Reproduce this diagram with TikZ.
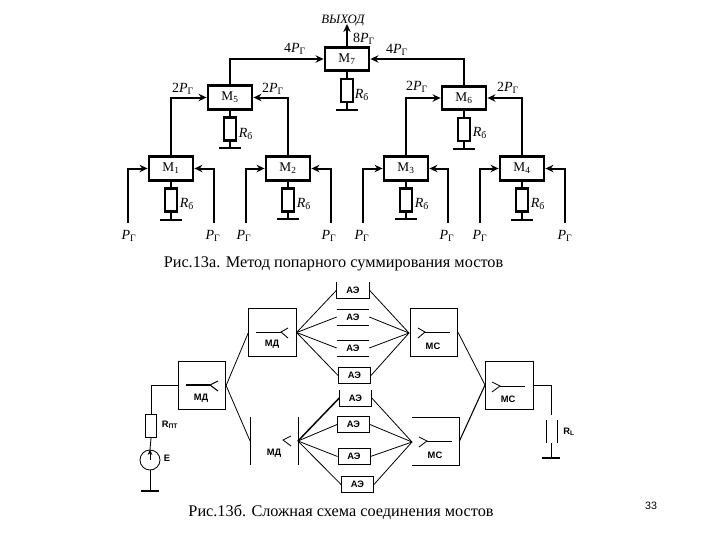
\documentclass[tikz,border=0pt]{standalone}
\usepackage{fontspec}
\setmainfont{Liberation Serif}
\setsansfont{Liberation Sans}
\usetikzlibrary{arrows.meta}
\newcommand{\Pg}{\textit{P}\textsubscript{Г}}
\newcommand{\Rb}{\textit{R}\textsubscript{б}}
\tikzset{
  mbox/.style={draw,line width=2.1pt,rectangle,inner sep=0pt,minimum width=33pt,minimum height=17.5pt,font=\fontsize{10}{12}\selectfont},
  rbox/.style={draw,line width=1.9pt,rectangle,inner sep=0pt,minimum width=9pt,minimum height=17.5pt},
  gnd/.style={fill=black,rectangle,inner sep=0pt,minimum width=16.5pt,minimum height=1.6pt},
  wire/.style={line width=1.5pt},
  arr/.style={line width=1.5pt,-{Stealth[length=6pt,width=5.5pt]}},
  lbl/.style={inner sep=0pt,font=\fontsize{10.5}{12}\selectfont},
  thinwire/.style={line width=0.65pt},
  fan/.style={line width=0.6pt},
  ae/.style={rectangle,inner sep=0pt,minimum width=24pt,minimum height=11.5pt,font=\sffamily\bfseries\fontsize{7}{8}\selectfont},
  bigbox/.style={rectangle,inner sep=0pt,minimum width=35.5pt,minimum height=35.5pt},
  tag/.style={inner sep=0pt,font=\sffamily\bfseries\fontsize{7}{8}\selectfont},
  captext/.style={inner sep=0pt,font=\fontsize{12.2}{14}\selectfont}
}
\begin{document}
\begin{tikzpicture}[x=0.75pt,y=-0.75pt]
\useasboundingbox (0,0) rectangle (720,540);
% --- top tree
\node[mbox] (m7) at (347,59) {М\textsubscript{7}};
\node[mbox] (m5) at (230,97.5) {М\textsubscript{5}};
\node[mbox] (m6) at (464,98) {М\textsubscript{6}};
\node[mbox] (m1) at (171,168.5) {М\textsubscript{1}};
\node[mbox] (m2) at (288,168.5) {М\textsubscript{2}};
\node[mbox] (m3) at (406,168.5) {М\textsubscript{3}};
\node[mbox] (m4) at (522,168.5) {М\textsubscript{4}};
% resistors
\node[rbox] (r7) at (347,90.5) {};
\node[rbox] (r5) at (230,129) {};
\node[rbox] (r6) at (464,129.5) {};
\node[rbox] (r1) at (171,200) {};
\node[rbox] (r2) at (288,200) {};
\node[rbox] (r3) at (406,200) {};
\node[rbox] (r4) at (522,200) {};
\node[gnd] (g7) at (347,110) {};
\node[gnd] (g5) at (230,148) {};
\node[gnd] (g6) at (464,149) {};
\node[gnd] (g1) at (171,220) {};
\node[gnd] (g2) at (288,219) {};
\node[gnd] (g3) at (406,219) {};
\node[gnd] (g4) at (522,220) {};
\foreach \a/\b/\c in {m7/r7/g7,m5/r5/g5,m6/r6/g6,m1/r1/g1,m2/r2/g2,m3/r3/g3,m4/r4/g4}
  \draw[wire] (\a) -- (\b) (\b) -- (\c);
% labels R
\node[lbl] (lr7) at (362,95) {\Rb};
\node[lbl] (lr5) at (246,134) {\Rb};
\node[lbl] (lr6) at (480,133) {\Rb};
\node[lbl] (lr1) at (187,204) {\Rb};
\node[lbl] (lr2) at (304,204) {\Rb};
\node[lbl] (lr3) at (422,204) {\Rb};
\node[lbl] (lr4) at (538,204) {\Rb};
% inputs
\node[lbl] (p1) at (129,236) {\Pg};
\node[lbl] (p2) at (213,236) {\Pg};
\node[lbl] (p3) at (244,236) {\Pg};
\node[lbl] (p4) at (329,236) {\Pg};
\node[lbl] (p5) at (362,236) {\Pg};
\node[lbl] (p6) at (447,236) {\Pg};
\node[lbl] (p7) at (480,236) {\Pg};
\node[lbl] (p8) at (565,236) {\Pg};
\coordinate (i1) at (128,223);
\coordinate (i2) at (214,223);
\coordinate (i3) at (246,223);
\coordinate (i4) at (331,223);
\coordinate (i5) at (363,223);
\coordinate (i6) at (448,223);
\coordinate (i7) at (480,223);
\coordinate (i8) at (565,223);
\draw[arr] (i1) |- (m1.west);
\draw[arr] (i2) |- (m1.east);
\draw[arr] (i3) |- (m2.west);
\draw[arr] (i4) |- (m2.east);
\draw[arr] (i5) |- (m3.west);
\draw[arr] (i6) |- (m3.east);
\draw[arr] (i7) |- (m4.west);
\draw[arr] (i8) |- (m4.east);
% tree
\draw[arr] (m1.north) |- (m5.west);
\draw[arr] (m2.north) |- (m5.east);
\draw[arr] (m3.north) |- (m6.west);
\draw[arr] (m4.north) |- (m6.east);
\draw[arr] (m5.north) |- (m7.west);
\draw[arr] (m6.north) |- (m7.east);
\node[inner sep=0pt,font=\itshape\fontsize{9.6}{11}\selectfont] (out) at (343,21) {ВЫХОД};
\coordinate (outp) at (347,24);
\draw[arr] (m7.north) -- (outp);
\node[lbl] (t8) at (364,39) {8\Pg};
\node[lbl] (t4a) at (295,49) {4\Pg};
\node[lbl] (t4b) at (397,50) {4\Pg};
\node[lbl] (t2a) at (183,89) {2\Pg};
\node[lbl] (t2b) at (273,89) {2\Pg};
\node[lbl] (t2c) at (417,87) {2\Pg};
\node[lbl] (t2d) at (508,88) {2\Pg};
\node[captext] (c1) at (333.5,264) {Рис.13а. Метод попарного суммирования мостов};
% --- bottom
\node[bigbox,draw,thinwire] (mdl) at (202,385.5) {};
\node[bigbox,draw,thinwire] (mdt) at (272.5,332.5) {};
\node[bigbox] (mdb) at (274,441) {};
\node[bigbox,draw,thinwire] (mct) at (434,332.5) {};
\node[bigbox] (mcb) at (435.5,441) {};
\node[bigbox,draw,thinwire] (mcr) at (509.5,385.5) {};
\draw[thinwire] (mdb.north west) -- (mdb.south west);
\draw[thinwire] (mdb.north east) -- (mdb.south east);
\draw[thinwire] (mcb.north west) -- (mcb.north east) -- (mcb.south east) -- (mcb.south west);
% AE
\node[ae] (a1) at (353,290) {АЭ};
\node[ae] (a2) at (353,317) {АЭ};
\node[ae] (a3) at (353,348) {АЭ};
\node[ae,draw,thinwire] (a4) at (354.5,375.5) {АЭ};
\node[ae] (a5) at (355.5,398) {АЭ};
\node[ae,draw,thinwire] (a6) at (353.5,424.5) {АЭ};
\node[ae,draw,thinwire] (a7) at (354,456.5) {АЭ};
\node[ae,draw,thinwire] (a8) at (357.5,484.5) {АЭ};
\draw[thinwire] (a1.north west) -- (a1.south west) -- (a1.south east) -- (a1.north east);
\draw[thinwire] (a2.north west) -- (a2.north east) (a2.south west) -- (a2.south east);
\draw[thinwire] (a3.north west) -- (a3.north east) (a3.south west) -- (a3.south east);
\draw[thinwire] (a5.north west) -- (a5.south west) -- (a5.south east) -- (a5.north east);
% fans
\coordinate (ft) at (409,333);
\coordinate (fb) at (412,442);
\foreach \n in {a1,a2,a3,a4} {
  \draw[fan] (mdt.east) -- (\n.west);
  \draw[fan] (\n.east) -- (ft);
}
\foreach \n in {a6,a7,a8} {
  \draw[fan] (mdb.east) -- (\n.west);
  \draw[fan] (\n.east) -- (fb);
}
\draw[line width=1.1pt] (mdb.east) -- (a5.west);
\draw[fan] (a5.east) -- (fb);
\draw[fan] (mdl.east) -- (mdt.west);
\draw[fan] (mdl.east) -- (mdb.west);
\coordinate (mcin) at (485,385);
\draw[fan] (mct.east) -- (mcin);
\draw[line width=0.8pt] (mcb.east) -- (mcin);
% inner switches
\draw[line width=1.2pt] (186,385) -- (210,385);
\draw[line width=0.8pt] (218,381) -- (210,385) -- (218,391);
\draw[thinwire] (256,332) -- (281,332);
\draw[thinwire] (288,328) -- (281,332) -- (288,338);
\draw[thinwire] (291,436) -- (283,440) -- (291,446);
\draw[thinwire] (425,332) -- (450,332);
\draw[thinwire] (418,328) -- (425,332) -- (418,338);
\draw[thinwire] (427,441) -- (452,441);
\draw[thinwire] (419,437) -- (427,441) -- (419,447);
\draw[thinwire] (500,386) -- (525,386);
\draw[thinwire] (492,382) -- (500,386) -- (492,392);
\node[tag] (t1) at (201,398) {МД};
\node[tag] (t2) at (272,344) {МД};
\node[tag] (t3) at (274,453) {МД};
\node[tag] (t4) at (433,346) {МС};
\node[tag] (t5) at (435,455) {МС};
\node[tag] (t6) at (508,399) {МС};
% source branch
\node[rectangle,draw,thinwire,inner sep=0pt,minimum width=8.5pt,minimum height=17.5pt] (rpt) at (151,426) {};
\node[circle,draw,thinwire,inner sep=0pt,minimum size=15pt] (src) at (150,460) {};
\node[rectangle,fill=black,inner sep=0pt,minimum width=13.5pt,minimum height=1pt] (gs) at (150,491) {};
\draw[thinwire] (mdl.west) -| (rpt.north);
\draw[thinwire] (rpt.south) -- (src.north);
\draw[thinwire] (src.south) -- (gs);
\draw[thinwire,-{Stealth[length=4pt,width=3.5pt]}] (src.center) -- (src.north);
\node[tag] (lrp) at (170,425) {R\textsubscript{ПТ}};
\node[tag] (le) at (167,458) {Е};
% load
\coordinate (bt) at (551,415);
\coordinate (bb) at (551,443);
\node[rectangle,fill=black,inner sep=0pt,minimum width=13pt,minimum height=0.8pt] (gl) at (551,458) {};
\coordinate (cl1) at (546,420);
\coordinate (cl2) at (546,443);
\coordinate (cr1) at (557,420);
\coordinate (cr2) at (557,443);
\draw[thinwire] (mcr.east) -| (bt);
\draw[thinwire] (bb) -- (gl);
\draw[thinwire] (cl1) -- (cl2);
\draw[thinwire] (cr1) -- (cr2);
\node[tag] (lrl) at (569,432) {R\textsubscript{L}};
\node[captext] (c2) at (341,512) {Рис.13б. Сложная схема соединения мостов};
\node[inner sep=0pt,font=\sffamily\fontsize{8}{9}\selectfont] (pg) at (651,506) {33};
\end{tikzpicture}
\end{document}
